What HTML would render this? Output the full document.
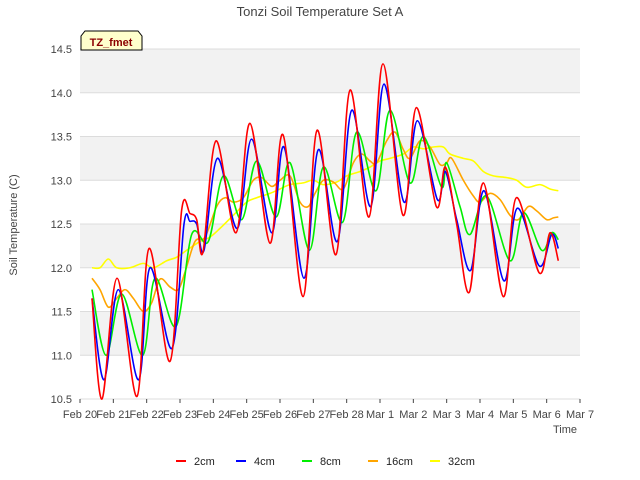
<!DOCTYPE html>
<html><head><meta charset="utf-8"><style>body{margin:0;background:#fff}svg{display:block;font-family:"Liberation Sans",sans-serif}</style></head>
<body>
<svg id="chart" width="640" height="480">
<text x="320" y="16" text-anchor="middle" font-size="13" fill="#444">Tonzi Soil Temperature Set A</text>
<g id="bands"></g><g id="grid"></g><g id="axes"></g><g id="series"></g>
<g><path d="M81,50 L81,36 L85,31 L138,31 L142,36 L142,50 Z" fill="#ffffcc" stroke="#000" stroke-width="1"/><text x="111" y="46" text-anchor="middle" font-size="11" font-weight="bold" fill="#8b0000">TZ_fmet</text></g>
<text x="17" y="225" transform="rotate(-90 17 225)" text-anchor="middle" font-size="11" fill="#444">Soil Temperature (C)</text>
<text x="565" y="433" text-anchor="middle" font-size="11" fill="#444">Time</text>
<g id="legend"></g>
</svg>
<script>
const yTicks=[10.5,11.0,11.5,12.0,12.5,13.0,13.5,14.0,14.5];
const xTickLabels=["Feb 20","Feb 21","Feb 22","Feb 23","Feb 24","Feb 25","Feb 26","Feb 27","Feb 28","Mar 1","Mar 2","Mar 3","Mar 4","Mar 5","Mar 6","Mar 7"];
const seriesNames=["2cm","4cm","8cm","16cm","32cm"];
const seriesColors=["#ff0000","#0000ff","#00ee00","#ffa500","#ffff00"];
const s2cm=[[0.36,11.65],[0.66,10.5],[1.11,11.88],[1.71,10.53],[2.07,12.22],[2.7,10.93],[3.05,12.66],[3.3,12.62],[3.5,12.55],[3.69,12.18],[4.08,13.45],[4.68,12.4],[5.1,13.65],[5.7,12.28],[6.09,13.52],[6.69,11.67],[7.11,13.57],[7.68,12.15],[8.1,14.03],[8.67,12.58],[9.09,14.33],[9.69,12.6],[10.09,13.83],[10.69,12.7],[10.96,13.15],[11.3,12.5],[11.68,11.72],[12.1,12.97],[12.7,11.67],[13.09,12.8],[13.78,11.94],[14.1,12.4],[14.35,12.08]];
const s4cm=[[0.36,11.65],[0.72,10.72],[1.15,11.75],[1.76,10.72],[2.1,12.0],[2.76,11.08],[3.12,12.5],[3.3,12.53],[3.5,12.5],[3.72,12.2],[4.12,13.25],[4.72,12.45],[5.15,13.47],[5.75,12.4],[6.12,13.38],[6.72,11.88],[7.15,13.35],[7.72,12.3],[8.15,13.8],[8.72,12.7],[9.12,14.1],[9.72,12.75],[10.12,13.68],[10.72,12.78],[10.96,13.1],[11.3,12.55],[11.72,11.97],[12.12,12.88],[12.72,11.85],[13.12,12.68],[13.78,12.02],[14.15,12.38],[14.35,12.22]];
const s8cm=[[0.36,11.75],[0.78,11.0],[1.25,11.7],[1.88,11.0],[2.25,11.88],[2.88,11.33],[3.35,12.38],[3.85,12.3],[4.3,13.05],[4.85,12.55],[5.3,13.22],[5.88,12.58],[6.3,13.2],[6.88,12.2],[7.3,13.15],[7.88,12.52],[8.3,13.55],[8.88,12.88],[9.3,13.8],[9.9,12.97],[10.3,13.5],[10.85,12.92],[11.0,13.2],[11.4,12.7],[11.7,12.38],[12.2,12.82],[12.9,12.08],[13.3,12.63],[13.85,12.2],[14.15,12.4],[14.35,12.32]];
const s16cm=[[0.36,11.88],[0.6,11.75],[0.85,11.55],[1.1,11.65],[1.35,11.75],[1.6,11.65],[1.9,11.5],[2.15,11.6],[2.4,11.87],[2.7,11.78],[2.95,11.75],[3.15,11.95],[3.45,12.3],[3.75,12.35],[4.1,12.7],[4.35,12.8],[4.6,12.75],[4.9,12.8],[5.2,13.0],[5.45,13.03],[5.75,12.93],[6.0,13.0],[6.3,13.05],[6.6,12.75],[6.85,12.7],[7.05,12.85],[7.3,13.0],[7.6,12.98],[7.9,12.9],[8.2,13.2],[8.45,13.3],[8.7,13.22],[8.9,13.2],[9.2,13.45],[9.45,13.55],[9.7,13.35],[9.9,13.25],[10.2,13.45],[10.5,13.38],[10.8,13.18],[11.0,13.2],[11.15,13.25],[11.5,13.0],[11.8,12.82],[12.0,12.75],[12.3,12.85],[12.6,12.78],[12.9,12.6],[13.15,12.55],[13.45,12.7],[13.7,12.65],[14.0,12.55],[14.2,12.57],[14.35,12.58]];
const s32cm=[[0.36,12.0],[0.6,12.0],[0.85,12.1],[1.1,12.0],[1.5,12.0],[1.9,12.05],[2.2,12.0],[2.6,12.08],[2.9,12.12],[3.2,12.2],[3.6,12.3],[3.9,12.35],[4.2,12.45],[4.6,12.6],[5.0,12.75],[5.3,12.8],[5.7,12.85],[6.0,12.9],[6.3,12.95],[6.7,12.97],[7.0,13.0],[7.3,12.95],[7.7,12.98],[8.0,13.05],[8.4,13.1],[8.7,13.15],[9.0,13.22],[9.3,13.25],[9.7,13.3],[10.0,13.38],[10.3,13.36],[10.6,13.38],[10.9,13.38],[11.1,13.3],[11.5,13.25],[11.8,13.22],[12.1,13.1],[12.4,13.05],[12.8,13.03],[13.1,13.0],[13.4,12.92],[13.8,12.95],[14.1,12.9],[14.35,12.88]];
const allSeries=[s2cm,s4cm,s8cm,s16cm,s32cm];
const NS="http://www.w3.org/2000/svg";
const X0=80,X1=580,Y0=399,Y1=49;
const xs=d=>X0+(X1-X0)*d/15;
const ys=v=>Y0-(Y0-Y1)*(v-10.5)/4;
function mk(p,tag,at){const e=document.createElementNS(NS,tag);for(const k in at)e.setAttribute(k,at[k]);p.appendChild(e);return e;}
const bands=document.getElementById('bands'),grid=document.getElementById('grid'),axes=document.getElementById('axes');
for(let i=0;i<yTicks.length-1;i++){if(i%2===1){const r=mk(bands,'rect',{x:X0,y:ys(yTicks[i+1]),width:X1-X0,height:ys(yTicks[i])-ys(yTicks[i+1]),fill:'#f2f2f2'});

}}
yTicks.forEach(v=>{const l=mk(grid,'line',{x1:X0,x2:X1,y1:ys(v),y2:ys(v),stroke:'#dcdcdc','stroke-width':1});


const t=mk(axes,'text',{x:72,y:ys(v)+4,'text-anchor':'end','font-size':11,fill:'#444'});t.textContent=v.toFixed(1);

});
xTickLabels.forEach((s,i)=>{const x=xs(i);mk(axes,'line',{x1:x,x2:x,y1:Y0,y2:Y0+4,stroke:'#444'});
const t=mk(axes,'text',{x:x,y:418,'text-anchor':'middle','font-size':11,fill:'#444'});t.textContent=s;

});
function pathD(pts){const p=pts.map(a=>[xs(a[0]),ys(a[1])]);let d='M'+p[0][0]+','+p[0][1];
for(let i=0;i<p.length-1;i++){const a=p[Math.max(i-1,0)],b=p[i],c=p[i+1],e=p[Math.min(i+2,p.length-1)];
d+=' C'+(b[0]+(c[0]-a[0])/6)+','+(b[1]+(c[1]-a[1])/6)+' '+(c[0]-(e[0]-b[0])/6)+','+(c[1]-(e[1]-b[1])/6)+' '+c[0]+','+c[1];}return d;}
const sg=document.getElementById('series');
for(let i=allSeries.length-1;i>=0;i--){const p=mk(sg,'path',{d:pathD(allSeries[i]),fill:'none',stroke:seriesColors[i],'stroke-width':1.6});

}
const lg=document.getElementById('legend');const lx=[176,236,302,368,430];
seriesNames.forEach((n,i)=>{const g=mk(lg,'g',{});


mk(g,'line',{x1:lx[i],x2:lx[i]+10,y1:461,y2:461,stroke:seriesColors[i],'stroke-width':2});
const t=mk(g,'text',{x:lx[i]+18,y:465,'font-size':11,fill:'#222'});t.textContent=n;});
</script>
</body></html>
